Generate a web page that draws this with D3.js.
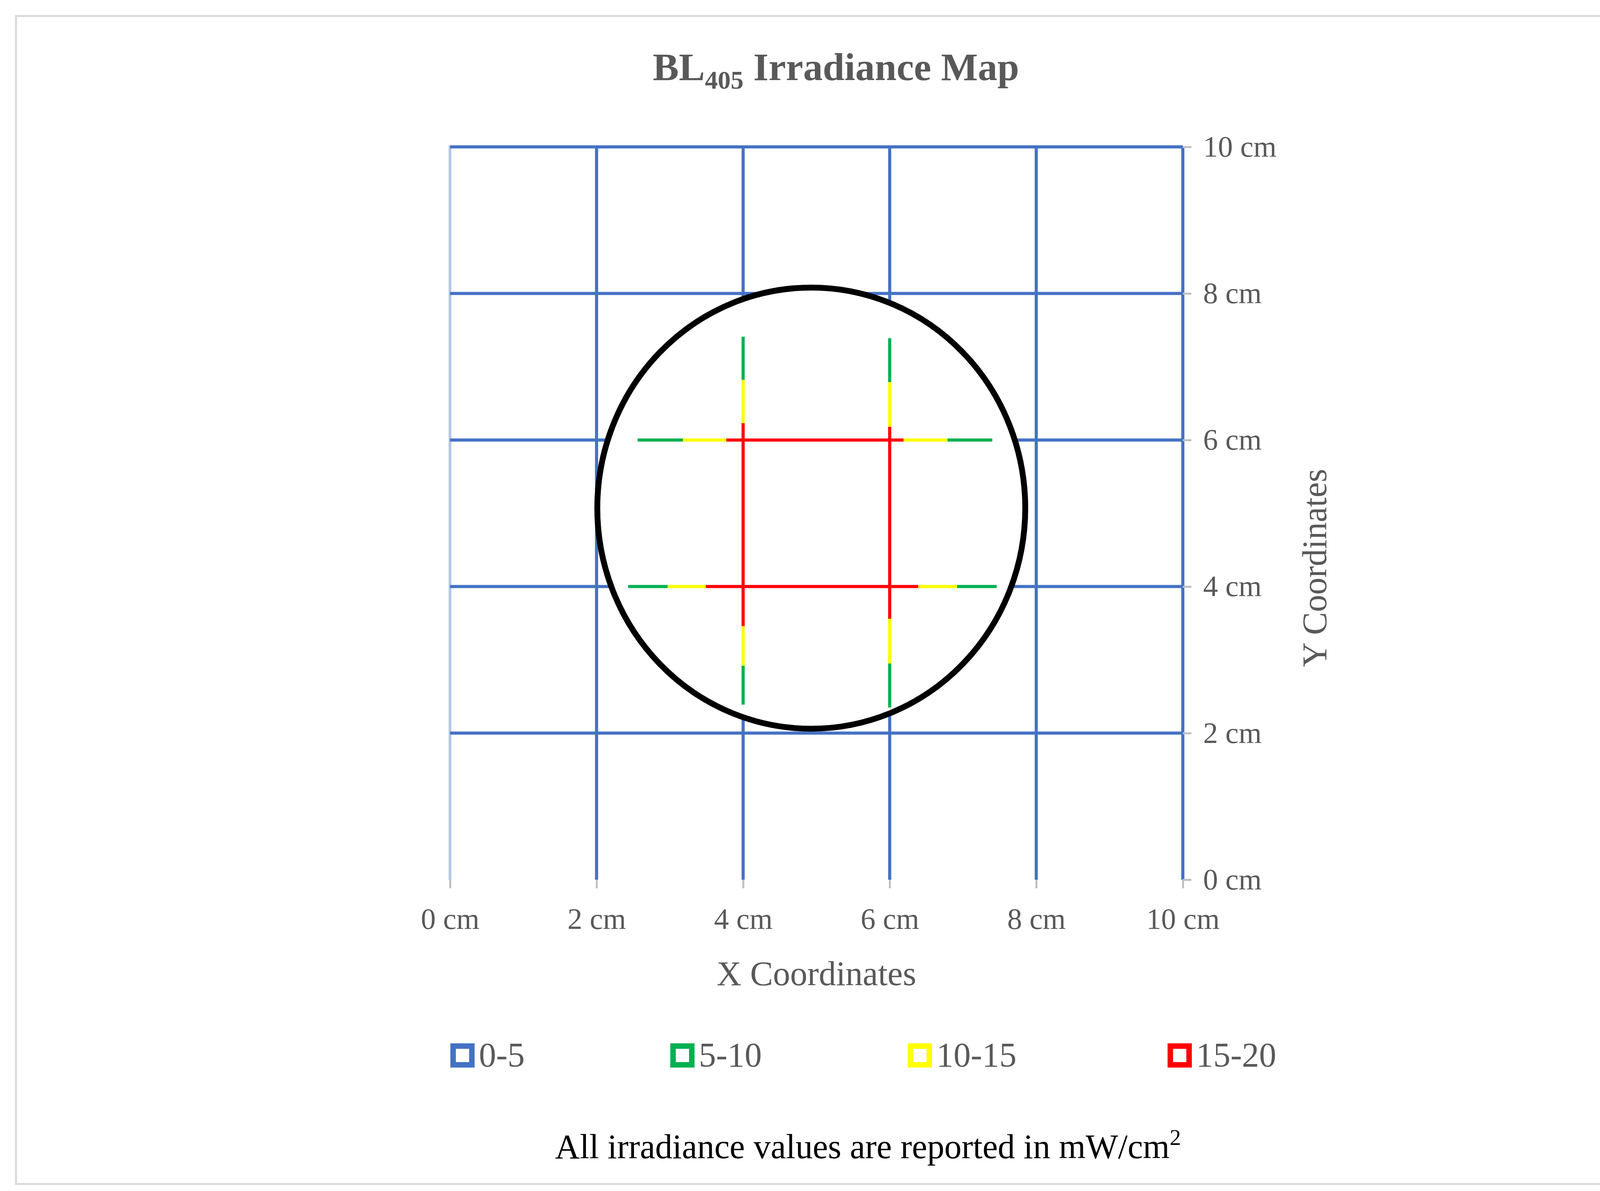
<!DOCTYPE html>
<html><head><meta charset="utf-8">
<script src="https://cdn.jsdelivr.net/npm/d3@7"></script>
<style>body{margin:0;background:#fff}</style>
</head><body>
<div id="chart"></div>
<script>
var W = 4279, H = 3049

// grid lines of the 0-5 band (cm)
var gridTicks = [0, 2, 4, 6, 8, 10]
var tickLabels = ["0 cm", "2 cm", "4 cm", "6 cm", "8 cm", "10 cm"]

// coloured bands along the measured lines: [fixed, from, to, band]
var horizSegs = [
  [6, 2.56, 3.18, "5-10"], [6, 3.18, 3.77, "10-15"], [6, 3.77, 6.19, "15-20"], [6, 6.19, 6.79, "10-15"], [6, 6.79, 7.40, "5-10"],
  [4, 2.43, 2.97, "5-10"], [4, 2.97, 3.49, "10-15"], [4, 3.49, 6.39, "15-20"], [4, 6.39, 6.92, "10-15"], [4, 6.92, 7.46, "5-10"]
]
var vertSegs = [
  [4, 7.41, 6.82, "5-10"], [4, 6.82, 6.23, "10-15"], [4, 6.23, 3.46, "15-20"], [4, 3.46, 2.92, "10-15"], [4, 2.92, 2.39, "5-10"],
  [6, 7.39, 6.79, "5-10"], [6, 6.79, 6.18, "10-15"], [6, 6.18, 3.56, "15-20"], [6, 3.56, 2.95, "10-15"], [6, 2.95, 2.35, "5-10"]
]
var bands = ["0-5", "5-10", "10-15", "15-20"]
var bandColors = ["#4472C4", "#00B050", "#FFFF00", "#FF0000"]
var lamp = {cx: 4.93, cy: 5.07, rx: 2.92, ry: 3.01}

var color = d3.scaleOrdinal().domain(bands).range(bandColors)
var x = d3.scaleLinear().domain([0, 10]).range([1152, 3028])
var y = d3.scaleLinear().domain([0, 10]).range([2252, 376])

var svg = d3.select("#chart").append("svg").attr("width", W).attr("height", H)
  .style("font-family", "'Liberation Serif', 'Times New Roman', serif")

svg.append("rect").attr("x", 41).attr("y", 41).attr("width", 4197).attr("height", 2990)
  .attr("fill", "#fff").attr("stroke", "#d9d9d9").attr("stroke-width", 5)

svg.append("text").attr("x", 2140).attr("y", 205).attr("text-anchor", "middle")
  .attr("font-size", 100).attr("font-weight", "bold").attr("fill", "#595959")
  .html('BL<tspan font-size="66" dy="22">405</tspan><tspan dy="-22"> Irradiance Map</tspan>')

// plot border
svg.append("path").attr("d", `M${x(0)},${y(0)}V${y(10)}H${x(10)}`)
  .attr("fill", "none").attr("stroke", "#b4c7e7").attr("stroke-width", 7)

// blue grid
var g = svg.append("g").attr("stroke", color("0-5")).attr("stroke-width", 8)
g.selectAll(".gx").data(gridTicks.slice(1)).join("line")
  .attr("x1", d => x(d)).attr("x2", d => x(d)).attr("y1", y(0)).attr("y2", y(10))
g.selectAll(".gy").data(gridTicks.slice(1)).join("line")
  .attr("y1", d => y(d)).attr("y2", d => y(d)).attr("x1", x(0)).attr("x2", x(10))

// lamp footprint clears the grid
svg.append("ellipse").attr("cx", x(lamp.cx)).attr("cy", y(lamp.cy))
  .attr("rx", x(lamp.rx) - x(0)).attr("ry", y(0) - y(lamp.ry)).attr("fill", "#fff")

var s = svg.append("g").attr("stroke-width", 8)
s.selectAll(".h").data(horizSegs).join("line")
  .attr("x1", d => x(d[1])).attr("x2", d => x(d[2])).attr("y1", d => y(d[0])).attr("y2", d => y(d[0]))
  .attr("stroke", d => color(d[3]))
s.selectAll(".v").data(vertSegs).join("line")
  .attr("y1", d => y(d[1])).attr("y2", d => y(d[2])).attr("x1", d => x(d[0])).attr("x2", d => x(d[0]))
  .attr("stroke", d => color(d[3]))

svg.append("ellipse").attr("cx", x(lamp.cx)).attr("cy", y(lamp.cy))
  .attr("rx", x(lamp.rx) - x(0)).attr("ry", y(0) - y(lamp.ry))
  .attr("fill", "none").attr("stroke", "#000").attr("stroke-width", 15)

// axes
var fmt = d => tickLabels[gridTicks.indexOf(d)]
var xa = svg.append("g").attr("transform", `translate(0,${y(0)})`)
  .call(d3.axisBottom(x).tickValues(gridTicks).tickFormat(fmt).tickSize(22).tickPadding(50))
var ya = svg.append("g").attr("transform", `translate(${x(10)},0)`)
  .call(d3.axisRight(y).tickValues(gridTicks).tickFormat(fmt).tickSize(22).tickPadding(30))
;[xa, ya].forEach(a => {
  a.select(".domain").remove()
  a.selectAll("line").attr("stroke", "#bfbfbf").attr("stroke-width", 5)
  a.selectAll("text").attr("font-size", 76).attr("fill", "#595959").attr("font-family", "'Liberation Serif', serif")
})

svg.append("text").attr("x", 2090).attr("y", 2522).attr("text-anchor", "middle")
  .attr("font-size", 88).attr("fill", "#595959").text("X Coordinates")
svg.append("text").attr("transform", "translate(3395,1454) rotate(-90)").attr("text-anchor", "middle")
  .attr("font-size", 88).attr("fill", "#595959").text("Y Coordinates")

// legend
var legX = [1160, 1723, 2331, 2996]
var leg = svg.append("g").selectAll("g").data(bands).join("g")
  .attr("transform", (d, i) => `translate(${legX[i]},2702)`)
leg.append("rect").attr("x", 0).attr("y", -24).attr("width", 48).attr("height", 48)
  .attr("fill", "#fff").attr("stroke", d => color(d)).attr("stroke-width", 14)
leg.append("text").attr("x", 66).attr("y", 28).attr("font-size", 88).attr("fill", "#595959").text(d => d)

svg.append("text").attr("x", 2222).attr("y", 2965).attr("text-anchor", "middle")
  .attr("font-size", 88).attr("fill", "#000")
  .html('All irradiance values are reported in mW/cm<tspan font-size="58" dy="-34">2</tspan>')
</script>
</body></html>
